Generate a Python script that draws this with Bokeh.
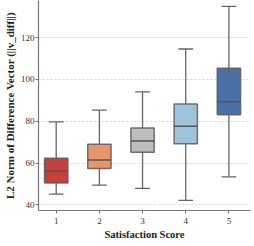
from bokeh.plotting import figure
from bokeh.models import FixedTicker, ColumnDataSource
from bokeh.embed import file_html
from bokeh.resources import INLINE

scores = [1, 2, 3, 4, 5]
score_labels = ["1", "2", "3", "4", "5"]
lower = [45.1, 49.4, 47.9, 42.1, 53.4]
q1 = [50.5, 57.4, 65.2, 69.3, 83.1]
median = [56.1, 61.5, 70.6, 77.6, 89.4]
q3 = [62.3, 69.0, 76.8, 88.3, 105.4]
upper = [79.7, 85.3, 94.1, 114.6, 135.0]
colors = ["#c5403a", "#e8956a", "#bdbdbd", "#9ec3dc", "#4a70a8"]
y_ticks = [40, 60, 80, 100, 120]

box_w = 0.54
cap_w = 0.34

src = ColumnDataSource(dict(
    x=scores, lower=lower, q1=q1, median=median, q3=q3, upper=upper, color=colors,
    xl=[s - box_w / 2 for s in scores], xr=[s + box_w / 2 for s in scores],
    cl=[s - cap_w / 2 for s in scores], cr=[s + cap_w / 2 for s in scores],
))

p = figure(frame_width=212, frame_height=210, x_range=(0.59, 5.5), y_range=(37.3, 137.8),
           output_backend="svg", toolbar_location=None)
p.min_border_left = 0
p.min_border_right = 4
p.min_border_top = 0
p.min_border_bottom = 0
p.outline_line_color = None
p.background_fill_color = "white"
p.border_fill_color = "white"

whisk = "#666666"
p.segment(x0="x", y0="q3", x1="x", y1="upper", source=src, line_color=whisk, line_width=1.3)
p.segment(x0="x", y0="q1", x1="x", y1="lower", source=src, line_color=whisk, line_width=1.3)
p.segment(x0="cl", y0="upper", x1="cr", y1="upper", source=src, line_color=whisk, line_width=1.3)
p.segment(x0="cl", y0="lower", x1="cr", y1="lower", source=src, line_color=whisk, line_width=1.3)
p.vbar(x="x", width=box_w, bottom="q1", top="q3", source=src, fill_color="color",
       line_color="#5a5a5a", line_width=1.5, line_alpha=0.85)
p.segment(x0="xl", y0="median", x1="xr", y1="median", source=src, line_color="#555555", line_width=1.5)

font = "Liberation Serif"
p.xaxis.ticker = FixedTicker(ticks=scores)
p.xaxis.major_label_overrides = {s: l for s, l in zip(scores, score_labels)}
p.yaxis.ticker = FixedTicker(ticks=y_ticks)
p.xaxis.axis_label = "Satisfaction Score"
p.yaxis.axis_label = "L2 Norm of Difference Vector (||v_diff||)"
for ax in (p.xaxis[0], p.yaxis[0]):
    ax.axis_label_text_font = font
    ax.axis_label_text_font_style = "bold"
    ax.axis_label_text_color = "#222222"
    ax.major_label_text_font = font
    ax.major_label_text_font_size = "9px"
    ax.major_label_text_color = "#333333"
    ax.axis_line_color = "#777777"
    ax.axis_line_width = 1.2
    ax.major_tick_line_color = "#777777"
    ax.major_tick_in = 0
    ax.major_tick_out = 3
    ax.minor_tick_line_color = None
    ax.axis_label_standoff = 2
    ax.major_label_standoff = 1
p.xaxis.major_label_standoff = 4
p.xaxis.axis_label_text_font_size = "10.5px"
p.yaxis.axis_label_text_font_size = "11px"

p.xgrid.grid_line_color = None
p.ygrid.grid_line_color = "#cccccc"
p.ygrid.grid_line_dash = "2 2"
p.ygrid.grid_line_width = 0.8

open("out.html", "w").write(file_html(p, INLINE))
